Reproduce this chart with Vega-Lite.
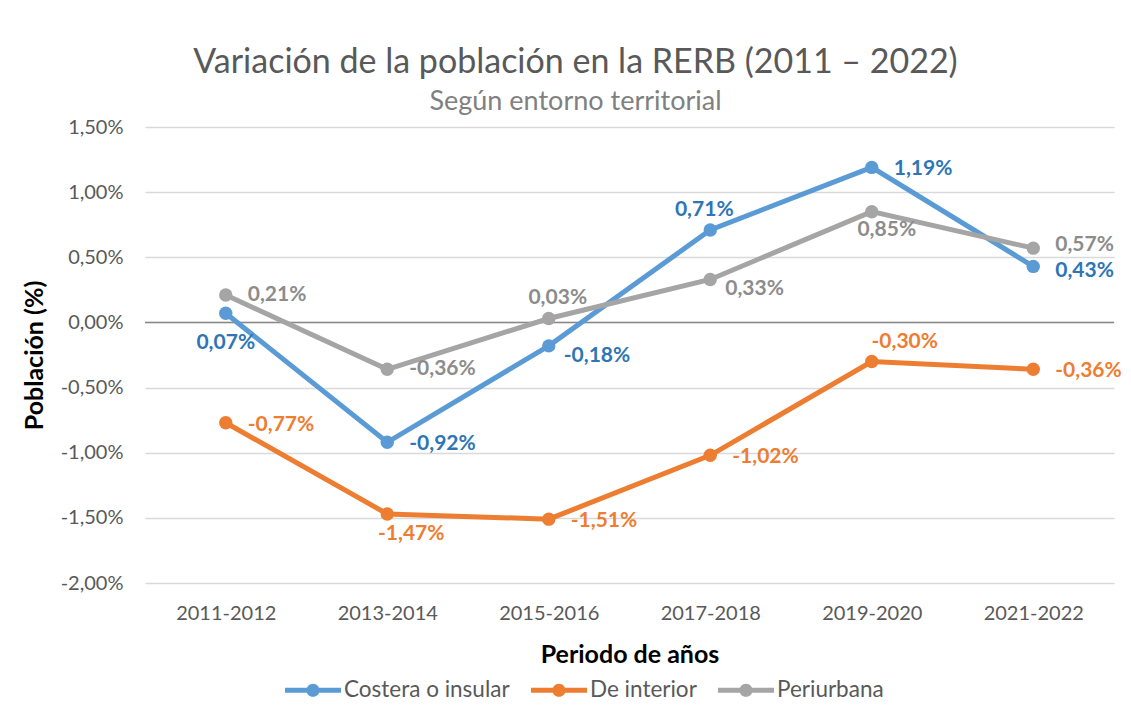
{
  "$schema": "https://vega.github.io/schema/vega-lite/v6.json",
  "autosize": "none",
  "width": 969,
  "height": 456,
  "padding": {"left": 145, "top": 127, "right": 17, "bottom": 126},
  "background": "white",
  "config": {
    "font": "Lato",
    "locale": {"number": {"decimal": ",", "thousands": ".", "grouping": [3], "currency": ["", " €"], "minus": "-"}},
    "view": {"stroke": null},
    "text": {"fontSize": 21, "fontWeight": "bold", "baseline": "middle"}
  },
  "title": {
    "text": "Variación de la población en la RERB (2011 – 2022)",
    "subtitle": "Según entorno territorial",
    "anchor": "middle",
    "frame": "group",
    "dx": -54,
    "offset": 2,
    "fontSize": 34,
    "fontWeight": "normal",
    "color": "#595959",
    "subtitleFontSize": 27,
    "subtitleColor": "#808080",
    "subtitlePadding": 9,
    "font": "Lato",
    "subtitleFont": "Lato"
  },
  "data": {
    "values": [
      {"serie": "Costera o insular", "periodo": "2011-2012", "valor": 0.0007},
      {"serie": "Costera o insular", "periodo": "2013-2014", "valor": -0.0092},
      {"serie": "Costera o insular", "periodo": "2015-2016", "valor": -0.0018},
      {"serie": "Costera o insular", "periodo": "2017-2018", "valor": 0.0071},
      {"serie": "Costera o insular", "periodo": "2019-2020", "valor": 0.0119},
      {"serie": "Costera o insular", "periodo": "2021-2022", "valor": 0.0043},
      {"serie": "De interior", "periodo": "2011-2012", "valor": -0.0077},
      {"serie": "De interior", "periodo": "2013-2014", "valor": -0.0147},
      {"serie": "De interior", "periodo": "2015-2016", "valor": -0.0151},
      {"serie": "De interior", "periodo": "2017-2018", "valor": -0.0102},
      {"serie": "De interior", "periodo": "2019-2020", "valor": -0.0030},
      {"serie": "De interior", "periodo": "2021-2022", "valor": -0.0036},
      {"serie": "Periurbana", "periodo": "2011-2012", "valor": 0.0021},
      {"serie": "Periurbana", "periodo": "2013-2014", "valor": -0.0036},
      {"serie": "Periurbana", "periodo": "2015-2016", "valor": 0.0003},
      {"serie": "Periurbana", "periodo": "2017-2018", "valor": 0.0033},
      {"serie": "Periurbana", "periodo": "2019-2020", "valor": 0.0085},
      {"serie": "Periurbana", "periodo": "2021-2022", "valor": 0.0057}
    ]
  },
  "encoding": {
    "x": {
      "field": "periodo",
      "type": "nominal",
      "sort": null,
      "scale": {"type": "point", "padding": 0.5},
      "axis": {
        "title": "Periodo de años",
        "titleFontSize": 25,
        "titleFontWeight": "bold",
        "titleColor": "#000000",
        "titlePadding": 19,
        "labelAngle": 0,
        "labelFontSize": 20,
        "labelColor": "#595959",
        "labelPadding": 20,
        "ticks": false,
        "domain": false,
        "grid": false
      }
    },
    "y": {
      "field": "valor",
      "type": "quantitative",
      "scale": {"domain": [-0.02, 0.015], "nice": false, "zero": false},
      "axis": {
        "title": "Población (%)",
        "titleFontSize": 25,
        "titleFontWeight": "bold",
        "titleColor": "#000000",
        "titlePadding": 13,
        "format": ".2%",
        "values": [-0.02, -0.015, -0.01, -0.005, 0, 0.005, 0.01, 0.015],
        "labelFontSize": 20,
        "labelColor": "#595959",
        "labelPadding": 22,
        "ticks": false,
        "domain": false,
        "grid": true,
        "gridColor": "#D9D9D9",
        "gridWidth": 1.3
      }
    }
  },
  "layer": [
    {
      "data": {"values": [{"cero": 0}]},
      "mark": {"type": "rule", "color": "#898989", "strokeWidth": 1.5},
      "encoding": {"x": null, "y": {"field": "cero", "type": "quantitative"}}
    },
    {
      "mark": {"type": "line", "strokeWidth": 5},
      "encoding": {
        "color": {
          "field": "serie",
          "type": "nominal",
          "scale": {"domain": ["Costera o insular", "De interior", "Periurbana"], "range": ["#5B9BD5", "#ED7D31", "#A5A5A5"]},
          "legend": {
            "title": null,
            "orient": "none",
            "direction": "horizontal",
            "legendX": 140,
            "legendY": 535,
            "symbolType": "M-1,-0.085H1V0.085H-1Z M-0.235,0A0.235,0.235 0 1,1 0.235,0A0.235,0.235 0 1,1 -0.235,0Z",
            "symbolSize": 3136,
            "symbolStrokeWidth": 0,
            "labelFontSize": 22.5,
            "labelLimit": 400,
            "labelColor": "#595959",
            "labelOffset": 3,
            "columnPadding": 21
          }
        }
      }
    },
    {
      "mark": {"type": "circle", "size": 180, "opacity": 1},
      "encoding": {
        "color": {"field": "serie", "type": "nominal"}
      }
    },
    {
      "transform": [{"filter": "indexof(['Costera o insular|2013-2014','Costera o insular|2019-2020','De interior|2011-2012','De interior|2015-2016','De interior|2017-2018','De interior|2021-2022'], datum.serie + '|' + datum.periodo) >= 0"}],
      "mark": {"type": "text", "align": "left", "dx": 22, "dy": 2},
      "encoding": {
        "text": {"field": "valor", "type": "quantitative", "format": ".2%"},
        "fill": {"field": "serie", "type": "nominal", "scale": {"domain": ["Costera o insular", "De interior", "Periurbana"], "range": ["#2E75B6", "#ED7D31", "#8C8C8C"]}, "legend": null}
      }
    },
    {
      "transform": [{"filter": "indexof(['Periurbana|2011-2012','Periurbana|2013-2014'], datum.serie + '|' + datum.periodo) >= 0"}],
      "mark": {"type": "text", "align": "left", "dx": 22, "dy": 0},
      "encoding": {
        "text": {"field": "valor", "type": "quantitative", "format": ".2%"},
        "fill": {"field": "serie", "type": "nominal", "legend": null}
      }
    },
    {
      "transform": [{"filter": "datum.serie == 'Periurbana' && datum.periodo == '2021-2022'"}],
      "mark": {"type": "text", "align": "left", "dx": 22, "dy": -3},
      "encoding": {
        "text": {"field": "valor", "type": "quantitative", "format": ".2%"},
        "fill": {"field": "serie", "type": "nominal", "legend": null}
      }
    },
    {
      "transform": [{"filter": "datum.serie == 'Costera o insular' && datum.periodo == '2021-2022'"}],
      "mark": {"type": "text", "align": "left", "dx": 22, "dy": 5},
      "encoding": {
        "text": {"field": "valor", "type": "quantitative", "format": ".2%"},
        "fill": {"field": "serie", "type": "nominal", "legend": null}
      }
    },
    {
      "transform": [{"filter": "indexof(['Costera o insular|2015-2016','Periurbana|2017-2018'], datum.serie + '|' + datum.periodo) >= 0"}],
      "mark": {"type": "text", "align": "left", "dx": 15, "dy": 10},
      "encoding": {
        "text": {"field": "valor", "type": "quantitative", "format": ".2%"},
        "fill": {"field": "serie", "type": "nominal", "legend": null}
      }
    },
    {
      "transform": [{"filter": "datum.serie == 'Costera o insular' && datum.periodo == '2017-2018'"}],
      "mark": {"type": "text", "align": "center", "dx": -6, "dy": -20},
      "encoding": {
        "text": {"field": "valor", "type": "quantitative", "format": ".2%"},
        "fill": {"field": "serie", "type": "nominal", "legend": null}
      }
    },
    {
      "transform": [{"filter": "datum.serie == 'Periurbana' && datum.periodo == '2015-2016'"}],
      "mark": {"type": "text", "align": "center", "dx": 9, "dy": -21},
      "encoding": {
        "text": {"field": "valor", "type": "quantitative", "format": ".2%"},
        "fill": {"field": "serie", "type": "nominal", "legend": null}
      }
    },
    {
      "transform": [{"filter": "datum.serie == 'De interior' && datum.periodo == '2019-2020'"}],
      "mark": {"type": "text", "align": "center", "dx": 33, "dy": -20},
      "encoding": {
        "text": {"field": "valor", "type": "quantitative", "format": ".2%"},
        "fill": {"field": "serie", "type": "nominal", "legend": null}
      }
    },
    {
      "transform": [{"filter": "datum.serie == 'De interior' && datum.periodo == '2013-2014'"}],
      "mark": {"type": "text", "align": "center", "dx": 24, "dy": 20},
      "encoding": {
        "text": {"field": "valor", "type": "quantitative", "format": ".2%"},
        "fill": {"field": "serie", "type": "nominal", "legend": null}
      }
    },
    {
      "transform": [{"filter": "datum.serie == 'Periurbana' && datum.periodo == '2019-2020'"}],
      "mark": {"type": "text", "align": "center", "dx": 15, "dy": 18},
      "encoding": {
        "text": {"field": "valor", "type": "quantitative", "format": ".2%"},
        "fill": {"field": "serie", "type": "nominal", "legend": null}
      }
    },
    {
      "transform": [{"filter": "datum.serie == 'Costera o insular' && datum.periodo == '2011-2012'"}],
      "mark": {"type": "text", "align": "center", "dx": 0, "dy": 30},
      "encoding": {
        "text": {"field": "valor", "type": "quantitative", "format": ".2%"},
        "fill": {"field": "serie", "type": "nominal", "legend": null}
      }
    }
  ]
}
